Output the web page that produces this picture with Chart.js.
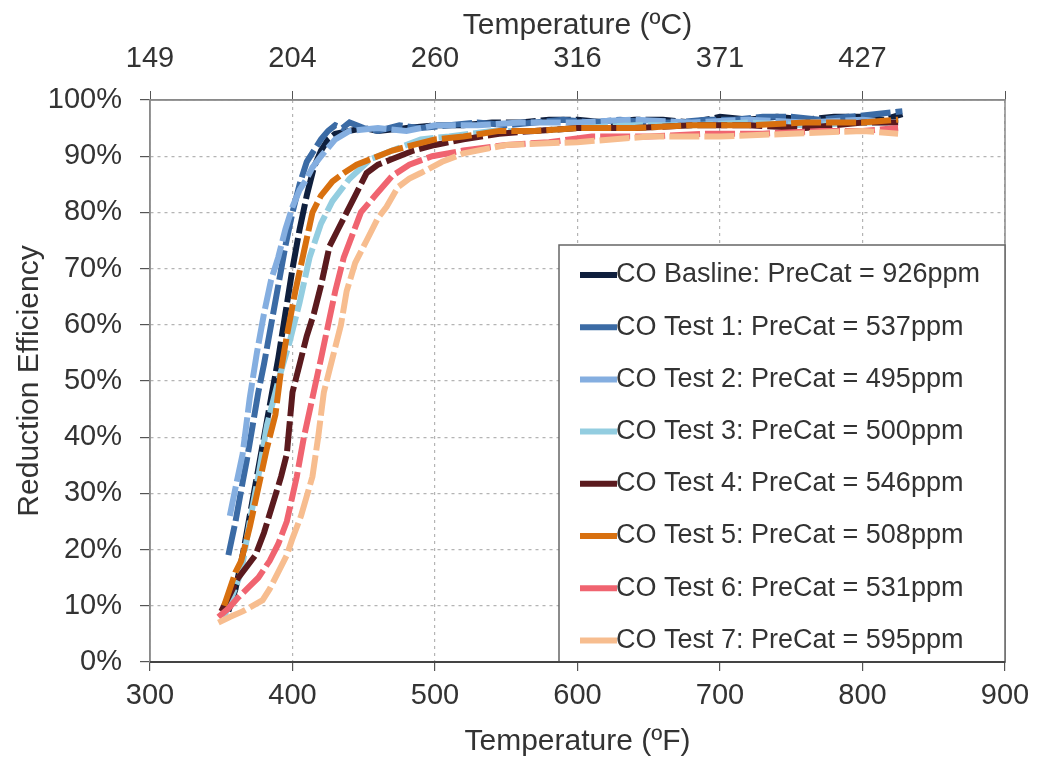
<!DOCTYPE html>
<html>
<head>
<meta charset="utf-8">
<script src="https://cdn.jsdelivr.net/npm/chart.js@4/dist/chart.umd.min.js"></script>
<style>
  html, body { margin: 0; padding: 0; background: #fff; }
  #wrap { width: 1039px; height: 760px; position: relative; }
</style>
</head>
<body>
<div id="wrap"><canvas id="chart"></canvas></div>
<script>
// series names, as in the legend
const seriesNames = [
  'CO Basline: PreCat = 926ppm',
  'CO Test 1: PreCat = 537ppm',
  'CO Test 2: PreCat = 495ppm',
  'CO Test 3: PreCat = 500ppm',
  'CO Test 4: PreCat = 546ppm',
  'CO Test 5: PreCat = 508ppm',
  'CO Test 6: PreCat = 531ppm',
  'CO Test 7: PreCat = 595ppm'
]
const seriesColors = ['#0f1f3d', '#3b6ba5', '#84aee0', '#93cde0', '#5b1a1e', '#d8700f', '#f06470', '#f7bd8f']

// bottom axis (F) ticks and matching Celsius labels for the top axis
const tempTicksF = [300, 400, 500, 600, 700, 800, 900]
const tempLabelsC = ['149', '204', '260', '316', '371', '427', '']

// temperature (F) / reduction efficiency (%)
const baselineF   = [355, 360, 365, 370, 375, 380, 385, 390, 395, 400, 405, 410, 415, 420, 425, 430, 440, 450, 460, 480, 500, 520, 540, 560, 580, 600, 620, 640, 660, 680, 700, 720, 740, 760, 780, 800, 815, 828]
const baselineEff = [9, 13, 19, 26, 33, 40, 47, 54, 62, 70, 77, 83, 88, 91, 93, 94, 94.5, 95, 94.5, 95, 95.5, 95.5, 96, 96, 96.5, 96.5, 96, 96.5, 96.5, 96, 97, 96.5, 97, 96.5, 97, 97, 96.5, 97.5]

const test1F   = [355, 360, 365, 368, 372, 376, 380, 385, 390, 395, 400, 405, 410, 415, 420, 425, 430, 435, 440, 450, 460, 475, 490, 510, 530, 550, 570, 590, 610, 630, 650, 670, 690, 710, 730, 750, 770, 790, 810, 828]
const test1Eff = [19, 25, 32, 36, 42, 48, 53, 60, 67, 74, 80, 85, 89, 91, 93, 94.5, 95.5, 95, 96, 95, 94.5, 95.5, 95, 95.5, 96, 95.5, 96, 96.5, 96, 96.5, 96, 96, 96.5, 96.5, 97, 97, 96.5, 97, 97.5, 98]

const test2F   = [356, 360, 365, 370, 375, 380, 385, 390, 395, 400, 405, 410, 414, 420, 430, 440, 460, 480, 500, 530, 560, 600, 640, 680, 720, 760, 800, 825]
const test2Eff = [26, 31, 37, 47, 55, 62, 68, 72, 77, 81, 84, 86, 88, 90, 93, 94.5, 95, 94.5, 95.5, 95.5, 96, 96, 96.5, 96, 96.5, 96, 96.5, 96]

const test3F   = [352, 358, 364, 370, 376, 382, 390, 398, 405, 412, 420, 428, 440, 455, 470, 490, 510, 540, 570, 600, 640, 680, 720, 760, 800, 825]
const test3Eff = [8, 12, 16, 25, 33, 42, 50, 57, 64, 72, 78, 82, 86, 89.5, 91, 93, 93.5, 94.5, 94.5, 95, 95.5, 95.5, 96, 95.5, 96, 96]

const test4F   = [350, 356, 362, 368, 374, 380, 386, 392, 396, 400, 405, 410, 415, 420, 426, 432, 438, 444, 452, 460, 470, 485, 500, 520, 545, 570, 600, 640, 680, 720, 760, 800, 825]
const test4Eff = [9, 12, 15, 17, 19, 23, 28, 33, 37, 48, 53, 58, 62, 67, 74, 77, 80, 83, 87, 88.5, 89.5, 91, 92, 93, 94, 94.5, 95, 95, 95.5, 95.5, 95, 96, 96]

const test5F   = [352, 356, 360, 364, 370, 376, 382, 388, 392, 396, 402, 408, 414, 420, 428, 436, 445, 455, 470, 485, 500, 520, 545, 570, 600, 640, 680, 720, 760, 800, 825]
const test5Eff = [10, 13, 16, 18, 24, 31, 38, 44, 52, 58, 66, 73, 80, 83, 85.5, 87, 88.5, 89.5, 91, 92, 93, 93.5, 94.5, 94.5, 95, 95, 95.5, 95.5, 96, 96, 96.5]

const test6F   = [348, 355, 362, 370, 376, 384, 390, 396, 403, 408, 414, 420, 425, 430, 436, 442, 448, 458, 470, 482, 498, 520, 550, 580, 610, 650, 690, 730, 770, 800, 825]
const test6Eff = [8, 9.5, 11.5, 13.5, 15, 18, 21, 25, 33, 40, 47, 54, 60, 66, 72, 76, 80, 83, 86.5, 88.5, 90, 91, 92, 92.5, 93.5, 93.5, 94, 94, 94.5, 94.5, 95]

const test7F   = [348, 356, 365, 372, 379, 384, 390, 396, 400, 406, 414, 418, 422, 428, 434, 438, 444, 452, 460, 466, 474, 482, 490, 505, 520, 550, 600, 650, 700, 750, 800, 825]
const test7Eff = [7, 8, 9, 10, 11, 13, 16, 19, 22, 26, 33, 40, 48, 54, 60, 66, 71, 75, 79, 81, 84.5, 86, 87, 89, 90.5, 92, 92.5, 93.5, 93.5, 94, 94.5, 94]

const seriesF   = [baselineF, test1F, test2F, test3F, test4F, test5F, test6F, test7F]
const seriesEff = [baselineEff, test1Eff, test2Eff, test3Eff, test4Eff, test5Eff, test6Eff, test7Eff]

const FONT = 'Liberation Sans, Arial, sans-serif'
const gridColor = '#b4b4b4'
const frameColor = '#8a8a8a'

// frame around the plot and the legend box in the lower right corner
const framePlugin = {
  id: 'frame',
  beforeDatasetsDraw(chart) {
    const { ctx, chartArea: a } = chart
    ctx.save()
    ctx.strokeStyle = frameColor
    ctx.lineWidth = 1.5
    ctx.strokeRect(a.left, a.top, a.right - a.left, a.bottom - a.top)
    ctx.restore()
  },
  afterDraw(chart) {
    const { ctx, chartArea: a } = chart
    const boxW = 446, boxH = 417
    const x0 = a.right - boxW, y0 = a.bottom - boxH
    ctx.save()
    ctx.fillStyle = '#fff'
    ctx.fillRect(x0, y0, boxW, boxH)
    ctx.strokeStyle = '#666'
    ctx.lineWidth = 1.5
    ctx.strokeRect(x0, y0, boxW, boxH)
    ctx.font = '27px ' + FONT
    ctx.textBaseline = 'middle'
    chart.data.datasets.forEach((ds, i) => {
      const y = y0 + 30 + i * 52.2
      ctx.strokeStyle = ds.borderColor
      ctx.lineWidth = 6
      ctx.beginPath()
      ctx.moveTo(x0 + 21, y)
      ctx.lineTo(x0 + 58, y)
      ctx.stroke()
      ctx.fillStyle = '#333'
      ctx.fillText(ds.label, x0 + 57, y)
    })
    // dark axis line at 0% over the box edge
    ctx.strokeStyle = '#444'
    ctx.lineWidth = 2
    ctx.beginPath()
    ctx.moveTo(a.left, a.bottom)
    ctx.lineTo(a.right, a.bottom)
    ctx.stroke()
    ctx.restore()
  }
}

const datasets = seriesNames.map((name, i) => ({
  label: name,
  data: seriesF[i].map((f, j) => ({ x: f, y: seriesEff[i][j] })),
  borderColor: seriesColors[i],
  backgroundColor: seriesColors[i],
  borderWidth: 6,
  borderDash: [30, 5],
  pointRadius: 0,
  tension: 0,
  order: seriesNames.length - i
}))

new Chart(document.getElementById('chart'), {
  type: 'line',
  data: { datasets: datasets },
  options: {
    responsive: true,
    maintainAspectRatio: false,
    animation: false,
    layout: { padding: { right: 34 } },
    plugins: { legend: { display: false }, tooltip: { enabled: false } },
    scales: {
      x: {
        type: 'linear',
        position: 'bottom',
        min: 300, max: 900,
        afterBuildTicks: (s) => { s.ticks = tempTicksF.map(v => ({ value: v })) },
        afterFit: (s) => { s.height = 98 },
        ticks: { font: { size: 29, family: FONT }, color: '#333', padding: 8, maxRotation: 0 },
        grid: { color: gridColor, lineWidth: 1.2, tickLength: 9, tickColor: '#555' },
        border: { color: '#444', width: 2, dash: [3, 4] },
        title: { display: true, text: 'Temperature (ºF)', font: { size: 30, family: FONT }, color: '#333', padding: { top: 0, bottom: 0 } }
      },
      xTop: {
        type: 'linear',
        position: 'top',
        min: 300, max: 900,
        afterBuildTicks: (s) => { s.ticks = tempTicksF.map(v => ({ value: v })) },
        afterFit: (s) => { s.height = 100 },
        ticks: {
          font: { size: 29, family: FONT }, color: '#333', padding: 15, maxRotation: 0,
          callback: (v) => tempLabelsC[tempTicksF.indexOf(v)]
        },
        grid: { drawOnChartArea: false, tickLength: 9, tickColor: '#555' },
        border: { color: frameColor, width: 1.5 },
        title: { display: true, text: 'Temperature (ºC)', font: { size: 30, family: FONT }, color: '#333', padding: { top: 8, bottom: 0 } }
      },
      y: {
        min: 0, max: 100,
        afterFit: (s) => { s.width = 150 },
        ticks: { stepSize: 10, font: { size: 29, family: FONT }, color: '#333', padding: 18, callback: (v) => v + '%' },
        grid: { color: gridColor, lineWidth: 1.2, tickLength: 10, tickColor: '#555' },
        border: { color: frameColor, width: 1.5, dash: [3, 4] },
        title: { display: true, text: 'Reduction Efficiency', font: { size: 30, family: FONT }, color: '#333', padding: { top: 12, bottom: 0 } }
      }
    }
  },
  plugins: [framePlugin]
})
</script>
</body>
</html>
